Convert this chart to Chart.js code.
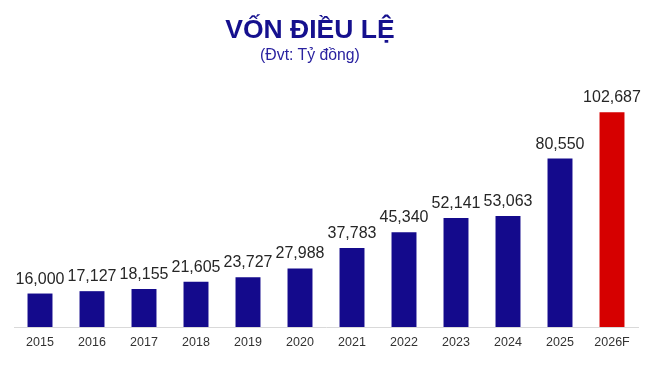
<!DOCTYPE html>
<html>
<head>
<meta charset="utf-8">
<script src="https://cdn.jsdelivr.net/npm/chart.js@4"></script>
<style>
  html, body { margin: 0; padding: 0; background: #ffffff; }
  #wrap { position: relative; width: 652px; height: 370px; }
  #c { position: absolute; left: 0; top: 0; }
  .t { position: absolute; left: 0; width: 620px; text-align: center; font-family: "Liberation Sans", Arial, sans-serif; line-height: 1; white-space: nowrap; }
  #title { top: 16px; font-size: 26.5px; font-weight: bold; color: #15108E; }
  #sub { top: 47px; font-size: 15.8px; color: #2A22A0; }
</style>
</head>
<body>
<div id="wrap">
  <canvas id="c" width="652" height="370"></canvas>
  <div class="t" id="title">VỐN ĐIỀU LỆ</div>
  <div class="t" id="sub">(Đvt: Tỷ đồng)</div>
</div>
<script>
const categories = ["2015","2016","2017","2018","2019","2020","2021","2022","2023","2024","2025","2026F"];
const capitalValues = [16000, 17127, 18155, 21605, 23727, 27988, 37783, 45340, 52141, 53063, 80550, 102687];
const barColors = ["#140A8C","#140A8C","#140A8C","#140A8C","#140A8C","#140A8C","#140A8C","#140A8C","#140A8C","#140A8C","#140A8C","#D60000"];

const valueLabels = {
  id: 'valueLabels',
  afterDatasetsDraw(chart) {
    const ctx = chart.ctx;
    const meta = chart.getDatasetMeta(0);
    ctx.save();
    ctx.font = '16px "Liberation Sans", Arial, sans-serif';
    ctx.fillStyle = '#262626';
    ctx.textAlign = 'center';
    ctx.textBaseline = 'alphabetic';
    meta.data.forEach((bar, i) => {
      const v = chart.data.datasets[0].data[i];
      ctx.fillText(v.toLocaleString('en-US'), bar.x, bar.y - 10);
    });
    ctx.restore();
  }
};

new Chart(document.getElementById('c'), {
  type: 'bar',
  data: {
    labels: categories,
    datasets: [{
      data: capitalValues,
      backgroundColor: barColors,
      borderWidth: 0,
      categoryPercentage: 1.0,
      barPercentage: 0.48
    }]
  },
  options: {
    responsive: false,
    animation: false,
    devicePixelRatio: 1,
    layout: { padding: { left: 14, right: 14, top: 76, bottom: 12 } },
    plugins: { legend: { display: false }, tooltip: { enabled: false }, title: { display: false } },
    scales: {
      x: {
        grid: { display: false, drawTicks: false },
        border: { display: true, color: '#D9D9D9', width: 1 },
        ticks: { color: '#333333', padding: 8, font: { family: '"Liberation Sans", Arial, sans-serif', size: 12.5 } }
      },
      y: {
        display: false,
        min: 0,
        max: 120000
      }
    }
  },
  plugins: [valueLabels]
});
</script>
</body>
</html>
